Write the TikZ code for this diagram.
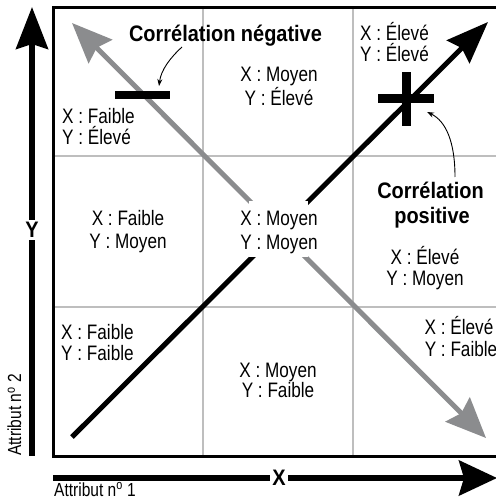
\documentclass[tikz,border=0pt]{standalone}
\usepackage{fontspec}
\setmainfont{Liberation Sans}[FakeStretch=0.82, BoldFeatures={FakeStretch=0.89}]
\usetikzlibrary{arrows.meta}
\definecolor{diaggray}{HTML}{8B8C8E}
\definecolor{gridgray}{HTML}{BEBEBE}
\begin{document}
\begin{tikzpicture}[x=1bp,y=-1bp,
  cell/.style={font=\fontsize{21}{24}\selectfont, inner sep=0pt, anchor=base},
  cellw/.style={cell, anchor=base west},
  attr/.style={font=\fontsize{19}{22}\selectfont, inner sep=0pt, anchor=base west},
  title/.style={font=\fontsize{22.5}{26}\selectfont\bfseries, inner sep=0pt, anchor=base},
  axisline/.style={line width=5.5bp},
  diagline/.style={line width=5bp},
  gridline/.style={gridgray, line width=2.5bp},
  bar/.style={fill=black, inner sep=0pt, draw=none},
  bigtip/.style={-{Stealth[length=42bp,width=32bp,inset=5bp]}},
  callout/.style={line width=0.9bp, -{Stealth[length=7bp,width=5bp]}},
  axlabel/.style={font=\fontsize{22.5}{26}\selectfont\bfseries, fill=white, inner sep=2bp},
]
\useasboundingbox (0,0) rectangle (496,499);

% grid
\draw[gridline] (203,7) -- (203,456);
\draw[gridline] (353,7) -- (353,456);
\draw[gridline] (53,156) -- (505,156);
\draw[gridline] (53,307) -- (505,307);
% frame
\draw[line width=3bp] (505,7.5) -- (53,7.5) -- (53,456) -- (505,456);

% diagonals
\coordinate (gs) at (72,23);
\coordinate (ge) at (486,438);
\coordinate (bs) at (72,437);
\coordinate (be) at (488,22);
\draw[diaggray, diagline, {Stealth[length=40bp,width=33bp,inset=5bp]}-{Stealth[length=40bp,width=34bp,inset=5bp]}] (gs) -- (ge);
\draw[diagline, bigtip] (bs) -- (be);

% white box in the centre
\fill[white] (249,201) rectangle (308,257);

% minus and plus
\node[bar, minimum width=55bp, minimum height=8bp] (minus) at (142.5,95.5) {};
\node[bar, minimum width=56bp, minimum height=8.5bp] (plush) at (406,98.5) {};
\node[bar, minimum width=9bp, minimum height=54bp] (plusv) at (406,99) {};

% axes
\coordinate (yb) at (32,456);
\coordinate (yt) at (32,7);
\coordinate (xb) at (53,478);
\coordinate (xt) at (497,478);
\draw[axisline, bigtip] (yb) -- (yt);
\draw[axisline, -{Stealth[length=38bp,width=35bp,inset=5bp]}] (xb) -- (xt);
\node[axlabel] (ylab) at (32,230) {Y};
\node[axlabel] (xlab) at (279,478) {X};
\node[attr, rotate=90] (attr2) at (21,456) {Attribut n\textsuperscript{o} 2};
\node[attr] (attr1) at (54,496) {Attribut n\textsuperscript{o} 1};

% titles
\node[title] (neg) at (225.5,41.7) {Corrélation négative};
\node[title] (pos1) at (430.5,198.3) {Corrélation};
\node[title] (pos2) at (432,223) {positive};

% callouts
\coordinate (negfrom) at (182,47);
\coordinate (negto) at (159,86);
\draw[callout] (negfrom) .. controls (170,58) and (161,70) .. (negto);
\coordinate (posfrom) at (455,177);
\coordinate (posto) at (427,112);
\draw[callout] (posfrom) .. controls (455,142) and (446,121) .. (posto);

% cell texts
\node[cellw] (tl1) at (62,123.5) {X : Faible};
\node[cellw] (tl2) at (62,145) {Y : Élevé};
\node[cell] (tm1) at (279,81.5) {X : Moyen};
\node[cell] (tm2) at (279,105.5) {Y : Élevé};
\node[cellw] (tr1) at (360,40.5) {X : Élevé};
\node[cellw] (tr2) at (360,62) {Y : Élevé};
\node[cell] (ml1) at (128,225.5) {X : Faible};
\node[cell] (ml2) at (128,248.5) {Y : Moyen};
\node[cell] (mm1) at (279,225.5) {X : Moyen};
\node[cell] (mm2) at (279,249.5) {Y : Moyen};
\node[cell] (mr1) at (425,264.5) {X : Élevé};
\node[cell] (mr2) at (425,285.5) {Y : Moyen};
\node[cellw] (bl1) at (61,339) {X : Faible};
\node[cellw] (bl2) at (61,360) {Y : Faible};
\node[cell] (bm1) at (278,377) {X : Moyen};
\node[cell] (bm2) at (278,397.5) {Y : Faible};
\node[cell] (br1) at (459,334.5) {X : Élevé};
\node[cell] (br2) at (461,356) {Y : Faible};
\end{tikzpicture}
\end{document}
